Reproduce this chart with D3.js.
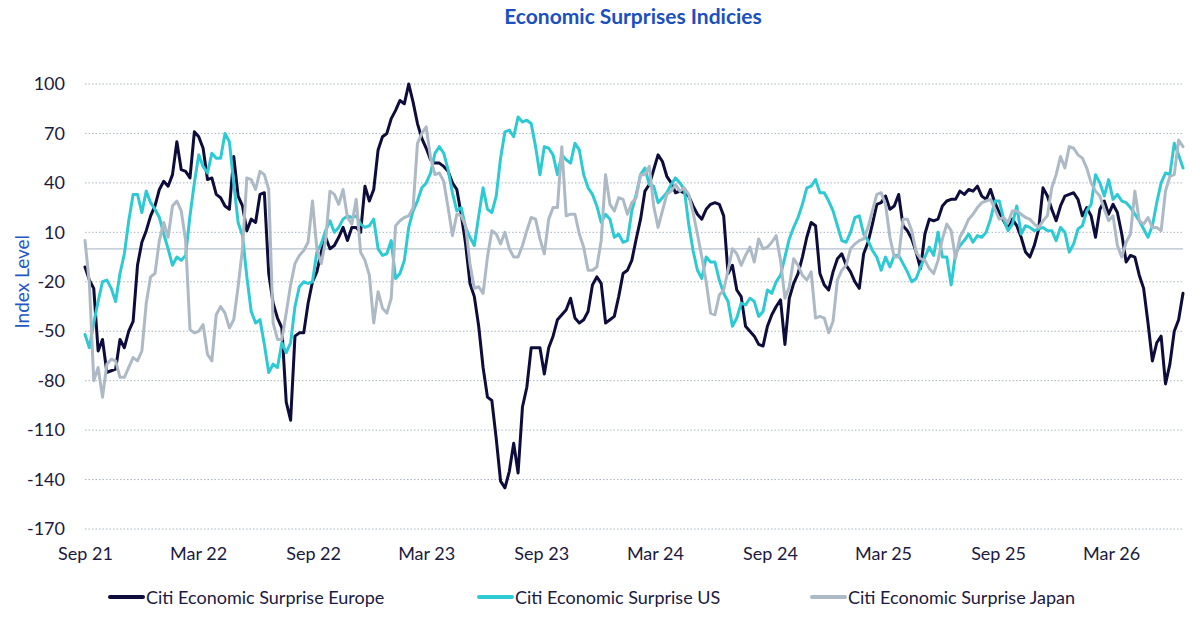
<!DOCTYPE html>
<html>
<head>
<meta charset="utf-8">
<script src="https://cdn.jsdelivr.net/npm/d3@7"></script>
<style>
  body { margin: 0; background: #fff; }
  svg text { font-family: Lato, "Open Sans", sans-serif; }
</style>
</head>
<body>
<div id="container"></div>
<script>
// weekly readings, first one on 1 Sep 2021
var startDate = new Date(2021, 8, 1);

var europe = [
  -11,-19,-24,-62,-55,-75,-74,-73,-55,-60,-50,-44,-10,4,11,20,26,36,41,38,45,65,48,47,43,71,68,61,42,43,33,31,26,24,56,32,26,11,18,16,33,34,-15,
  -33,-42,-48,-93,-104,-53,-51,-51,-33,-20,-14,-2,7,0,2,7,13,5,13,13,10,38,29,36,60,68,70,79,84,90,88,100,89,76,67,61,54,52,52,50,47,40,
  36,21,3,-21,-29,-47,-72,-90,-92,-115,-141,-145,-135,-118,-136,-96,-84,-60,-60,-60,-76,-60,-53,-43,-40,-37,-30,-42,-45,-43,-38,-22,-17,-21,-45,-43,-41,-29,-15,-13,-7,6,
  18,35,39,48,57,53,44,40,34,35,34,32,26,21,18,24,27,28,27,20,-15,-10,-25,-29,-47,-50,-53,-58,-59,-47,-40,-35,-31,-58,-30,-21,-15,-5,7,16,14,-15,
  -22,-25,-14,-6,-3,-10,-14,-20,-24,-3,4,15,27,28,32,24,26,33,14,11,6,-2,-12,9,18,17,18,26,29,30,30,35,33,36,35,38,32,30,36,28,22,17,12,
  18,14,7,-2,-5,2,12,37,32,24,17,26,32,33,34,30,20,25,20,7,24,29,21,27,22,9,-8,-4,-5,-16,-24,-45,-68,-57,-53,-82,-70,-50,-43,-27
];

var us = [
  -52,-60,-45,-32,-20,-19,-24,-32,-15,-3,17,33,33,22,35,28,24,19,9,0,-10,-5,-7,-4,20,40,57,50,46,58,55,55,70,65,40,16,8,-17,-38,-45,-43,-58,-75,
  -70,-72,-57,-63,-57,-35,-23,-20,-21,-20,-2,3,11,17,10,13,18,20,19,20,15,13,14,18,0,-4,-3,5,-18,-15,-7,13,23,29,37,40,46,58,62,58,48,34,
  23,25,13,7,2,20,37,24,22,32,55,71,72,68,80,77,78,76,62,45,62,61,57,45,57,54,52,64,60,45,37,33,26,16,21,18,7,9,4,5,23,33,
  45,49,39,38,28,31,34,39,43,40,36,15,-1,-13,-18,-5,-8,-8,-19,-27,-32,-47,-42,-33,-34,-30,-32,-41,-38,-25,-27,-20,-16,-5,6,13,19,27,37,38,42,34,
  34,29,23,14,5,4,10,19,20,9,5,-1,-5,-13,-5,-11,-4,-4,-9,-14,-20,-18,-11,-5,1,-4,10,-5,-5,-22,-3,2,5,9,4,8,7,10,18,29,29,18,11,
  15,26,9,14,13,11,12,13,11,11,5,13,10,-2,3,12,14,23,27,45,40,32,42,30,33,29,28,25,21,17,12,7,14,28,40,46,45,64,57,49
];

var japan = [
  5,-21,-80,-72,-90,-70,-67,-68,-78,-78,-72,-66,-68,-62,-33,-17,-15,5,16,7,26,29,23,5,-49,-51,-50,-46,-64,-68,-40,-35,-39,-48,-43,-23,0,43,42,36,47,45,36,
  -45,-55,-55,-39,-22,-9,-4,-1,4,29,0,-9,5,35,33,27,36,19,15,30,-2,-7,-16,-45,-26,-36,-39,-30,14,17,19,20,25,64,70,74,55,45,46,41,25,8,
  21,20,14,-9,-24,-23,-27,-5,11,9,3,10,0,-5,-5,2,11,19,18,6,-3,18,25,25,62,20,21,21,9,1,-13,-13,-11,5,45,27,23,31,30,21,28,31,
  45,45,50,26,13,23,33,35,39,35,37,33,22,9,-5,-20,-39,-40,-28,-25,-13,0,-3,-10,-4,1,-8,6,0,1,4,8,-7,-30,-23,-6,-10,-16,-19,-14,-42,-41,
  -42,-51,-44,-19,-13,-10,0,3,5,6,13,23,33,34,27,7,-5,-5,18,18,11,-2,-6,-7,-12,-15,-7,6,15,11,-6,7,12,18,21,25,28,29,30,24,18,19,16,
  23,23,21,19,18,15,13,17,20,37,45,56,49,62,61,57,55,49,40,35,32,24,17,20,2,-5,4,9,35,17,15,19,13,13,11,35,44,45,66,62
];

var seriesNames = ['Citi Economic Surprise Europe', 'Citi Economic Surprise US', 'Citi Economic Surprise Japan'];
var yTicks = [100, 70, 40, 10, -20, -50, -80, -110, -140, -170];
var xTicks = ['2021-09-01','2022-03-01','2022-09-01','2023-03-01','2023-09-01','2024-03-01',
              '2024-09-01','2025-03-01','2025-09-01','2026-03-01'];

var colors = ['#0d0c3b', '#2ecad3', '#adbac6'];
var width = 1200, height = 626;
var margin = ({top: 84, right: 17, bottom: 97, left: 85});
var legendX = [110, 479, 812];

var parse = d3.timeParse('%Y-%m-%d');

var series = [europe, us, japan].map(function(vals, k) {
  return {
    name: seriesNames[k],
    color: colors[k],
    values: vals.map(function(v, i) { return {date: d3.timeDay.offset(startDate, 7 * i), value: v}; })
  };
});

var svg = d3.select('div#container')
  .append('svg')
  .attr('width', width)
  .attr('height', height);

var x = d3.scaleTime()
  .domain(d3.extent(series[0].values, d => d.date))
  .range([margin.left, width - margin.right]);

var y = d3.scaleLinear()
  .domain([-170, 100])
  .range([height - margin.bottom, margin.top]);

// grid lines
svg.append('g')
  .selectAll('line')
  .data(yTicks)
  .join('line')
  .attr('x1', margin.left)
  .attr('x2', width - margin.right)
  .attr('y1', d => y(d))
  .attr('y2', d => y(d))
  .attr('stroke', '#a9b6c3')
  .attr('stroke-width', 1)
  .attr('stroke-dasharray', '1.5,2');

// zero line
svg.append('line')
  .attr('x1', margin.left)
  .attr('x2', width - margin.right)
  .attr('y1', y(0))
  .attr('y2', y(0))
  .attr('stroke', '#b4c0cc')
  .attr('stroke-width', 1.3);

// y axis (plain hyphen for negatives, like the original)
var yAxis = svg.append('g')
  .attr('transform', 'translate(' + margin.left + ',0)')
  .call(d3.axisLeft(y).tickValues(yTicks).tickFormat(d => String(d)).tickSize(0).tickPadding(20));
yAxis.select('.domain').remove();
yAxis.selectAll('text')
  .attr('font-size', '18px')
  .attr('fill', '#1b1a40')
  .style('font-family', 'Lato, sans-serif');

// x axis
var xAxis = svg.append('g')
  .attr('transform', 'translate(0,' + (height - margin.bottom) + ')')
  .call(d3.axisBottom(x).tickValues(xTicks.map(parse)).tickFormat(d3.timeFormat('%b %y')).tickSize(0).tickPadding(18));
xAxis.select('.domain').remove();
xAxis.selectAll('text')
  .attr('font-size', '18px')
  .attr('fill', '#1b1a40')
  .style('font-family', 'Lato, sans-serif');

// lines
var line = d3.line()
  .x(d => x(d.date))
  .y(d => y(d.value));

svg.append('g')
  .selectAll('path')
  .data(series)
  .join('path')
  .attr('d', d => line(d.values))
  .attr('fill', 'none')
  .attr('stroke', d => d.color)
  .attr('stroke-width', 3)
  .attr('stroke-linejoin', 'round')
  .attr('stroke-linecap', 'round');

// title
svg.append('text')
  .attr('x', 633)
  .attr('y', 24)
  .attr('text-anchor', 'middle')
  .attr('font-size', '21px')
  .attr('font-weight', 'bold')
  .attr('fill', '#1c4fc0')
  .text('Economic Surprises Indicies');

// y axis title
svg.append('text')
  .attr('transform', 'translate(29,' + y(-20) + ') rotate(-90)')
  .attr('text-anchor', 'middle')
  .attr('font-size', '19px')
  .attr('fill', '#2457c8')
  .text('Index Level');

// legend
var legend = svg.append('g')
  .selectAll('g')
  .data(series)
  .join('g')
  .attr('transform', (d, i) => 'translate(' + legendX[i] + ',597)');

legend.append('line')
  .attr('x1', 0)
  .attr('x2', 33)
  .attr('stroke', d => d.color)
  .attr('stroke-width', 4)
  .attr('stroke-linecap', 'round');

legend.append('text')
  .attr('x', 36)
  .attr('y', 6.5)
  .attr('font-size', '18px')
  .attr('fill', '#1b1a40')
  .text(d => d.name);
</script>
</body>
</html>
